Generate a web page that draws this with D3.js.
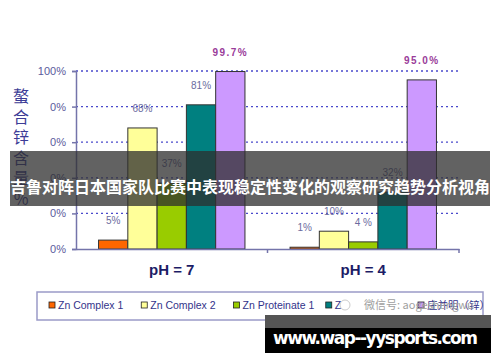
<!DOCTYPE html>
<html>
<head>
<meta charset="utf-8">
<script src="https://cdn.jsdelivr.net/npm/d3@7"></script>
<style>
  body { margin: 0; background: #fff; }
  svg { display: block; font-family: "Liberation Sans", Arial, sans-serif; }
</style>
</head>
<body>
<div id="chart"></div>
<script>
const groups = ["pH = 7", "pH = 4"];
const seriesNames = ["Zn Complex 1", "Zn Complex 2", "Zn Proteinate 1", "Zn Proteinate 2", "庄并明（锌）"];
const seriesColors = ["#ff6600", "#ffff99", "#99cc00", "#008080", "#cc99ff"];
const ph7Values = [5, 68, 37, 81, 99.7];
const ph4Values = [1, 10, 4, 32, 95.0];
const ph7Labels = ["5%", "68%", "37%", "81%", "99.7%"];
const ph4Labels = ["1%", "10%", "4 %", "32%", "95.0%"];
const yTicks = [0, 20, 40, 60, 80, 100];
const yTickLabels = ["0%", "0%", "0%", "0%", "0%", "100%"];
const yTitle = ["螯", "合", "锌", "含", "量", "%"];

const width = 500, height = 362;
const margin = {top: 71, left: 76, bottom: 113, right: 41};
const plotW = width - margin.left - margin.right;
const plotH = height - margin.top - margin.bottom;

const svg = d3.select("#chart").append("svg")
    .attr("width", width)
    .attr("height", height);

const g = svg.append("g")
    .attr("transform", "translate(" + margin.left + "," + margin.top + ")");

const x0 = d3.scaleBand().domain(groups).range([0, plotW]);
const x1 = d3.scaleBand().domain(seriesNames)
    .range([0, x0.bandwidth()]).paddingOuter(0.77);
const y = d3.scaleLinear().domain([0, 100]).range([plotH, 0]);

// dotted grid
g.append("g").selectAll("line")
    .data(yTicks.filter(d => d > 0))
    .join("line")
    .attr("x1", 0).attr("x2", plotW)
    .attr("y1", d => y(d)).attr("y2", d => y(d))
    .attr("stroke", "#4a4acc")
    .attr("stroke-width", 1.3)
    .attr("stroke-dasharray", "2,3");

// y axis
const yAxis = g.append("g")
    .call(d3.axisLeft(y).tickValues(yTicks).tickSize(4).tickPadding(6)
        .tickFormat((d, i) => yTickLabels[i]));
yAxis.select(".domain").attr("stroke", "#7474aa").attr("stroke-width", 1.5);
yAxis.selectAll(".tick line").attr("stroke", "#7474aa").attr("stroke-width", 1.5);
yAxis.selectAll("text").attr("fill", "#5a5a9c").attr("font-size", 11);

const data = groups.map((grp, gi) => ({
    group: grp,
    values: seriesNames.map((s, si) => ({
        series: s,
        color: seriesColors[si],
        value: gi === 0 ? ph7Values[si] : ph4Values[si],
        label: gi === 0 ? ph7Labels[si] : ph4Labels[si],
        big: si === seriesNames.length - 1
    }))
}));

const grp = g.selectAll(".grp")
    .data(data)
    .join("g")
    .attr("class", "grp")
    .attr("transform", d => "translate(" + x0(d.group) + ",0)");

grp.selectAll("rect")
    .data(d => d.values)
    .join("rect")
    .attr("x", d => x1(d.series))
    .attr("y", d => y(d.value))
    .attr("width", x1.bandwidth())
    .attr("height", d => plotH - y(d.value))
    .attr("fill", d => d.color)
    .attr("stroke", "#333")
    .attr("stroke-width", 1);

grp.selectAll("text.val")
    .data(d => d.values)
    .join("text")
    .attr("class", "val")
    .attr("x", d => x1(d.series) + x1.bandwidth() / 2)
    .attr("y", d => y(d.value) - 16)
    .attr("text-anchor", "middle")
    .attr("font-size", 10)
    .attr("font-weight", d => d.big ? "bold" : "normal")
    .attr("letter-spacing", d => d.big ? 1.5 : 0)
    .attr("fill", d => d.big ? "#9a3c9a" : "#6b6b9e")
    .text(d => d.label);

// x axis
const xAxis = g.append("g")
    .attr("transform", "translate(0," + plotH + ")")
    .call(d3.axisBottom(x0).tickSize(0).tickPadding(15));
xAxis.select(".domain").attr("stroke", "#7474aa").attr("stroke-width", 1.5);
xAxis.selectAll("text")
    .attr("font-size", 15)
    .attr("font-weight", "bold")
    .attr("fill", "#1c1c66");
g.append("g").selectAll("line")
    .data(groups.map(d => x0(d) + x0.bandwidth()))
    .join("line")
    .attr("x1", d => d).attr("x2", d => d)
    .attr("y1", plotH).attr("y2", plotH + 4)
    .attr("stroke", "#7474aa").attr("stroke-width", 1.5);

// y title
svg.append("g").selectAll("text")
    .data(yTitle)
    .join("text")
    .attr("x", 21)
    .attr("y", (d, i) => 102 + i * 20.5)
    .attr("text-anchor", "middle")
    .attr("font-family", "Noto Sans CJK SC")
    .attr("font-size", 16)
    .attr("fill", "#3c3c96")
    .text(d => d);

// legend
const legend = svg.append("g");
legend.append("rect")
    .attr("x", 37).attr("y", 292)
    .attr("width", 446).attr("height", 28)
    .attr("fill", "#fff")
    .attr("stroke", "#9a9ac8").attr("stroke-width", 1.5);
const legendX = d3.scalePoint().domain(seriesNames).range([49, 418]);
const li = legend.selectAll(".li")
    .data(seriesNames)
    .join("g")
    .attr("class", "li")
    .attr("transform", d => "translate(" + legendX(d) + ",302)");
li.append("rect")
    .attr("width", 6).attr("height", 6)
    .attr("fill", (d, i) => seriesColors[i])
    .attr("stroke", "#222").attr("stroke-width", 0.8);
li.append("text")
    .attr("x", 9).attr("y", 6.5)
    .attr("font-size", 10.5)
    .attr("fill", "#33338a")
    .attr("font-family", (d, i) => i === 4 ? "Noto Sans CJK SC" : null)
    .text((d, i) => i === 3 ? "Z" : d);
// wechat watermark over legend
legend.append("circle")
    .attr("cx", 345).attr("cy", 305).attr("r", 5)
    .attr("fill", "none").attr("stroke", "#ccc");
legend.append("text")
    .attr("x", 364).attr("y", 309)
    .attr("font-family", "Noto Sans CJK SC")
    .attr("font-size", 11)
    .attr("fill", "#a0a0a0")
    .text("微信号: aogeshengwu");

// title overlay
svg.append("rect")
    .attr("x", 10).attr("y", 151)
    .attr("width", 480).attr("height", 55)
    .attr("fill", "rgba(45,45,45,0.75)");
svg.append("text")
    .attr("x", 250).attr("y", 193)
    .attr("text-anchor", "middle")
    .attr("font-family", "Noto Sans CJK SC")
    .attr("font-weight", "bold")
    .attr("font-size", 16)
    .attr("fill", "#fff")
    .text("吉鲁对阵日本国家队比赛中表现稳定性变化的观察研究趋势分析视角");

// site banner
svg.append("rect")
    .attr("x", 265).attr("y", 315)
    .attr("width", 226).attr("height", 13)
    .attr("fill", "#555");
svg.append("rect")
    .attr("x", 265).attr("y", 328)
    .attr("width", 226).attr("height", 25)
    .attr("fill", "#000");
svg.append("text")
    .attr("x", 273).attr("y", 344)
    .attr("font-family", "DejaVu Sans")
    .attr("font-weight", "bold")
    .attr("font-size", 17)
    .attr("textLength", 205)
    .attr("fill", "#fff")
    .text("www.wap--yysports.com");
</script>
</body>
</html>
